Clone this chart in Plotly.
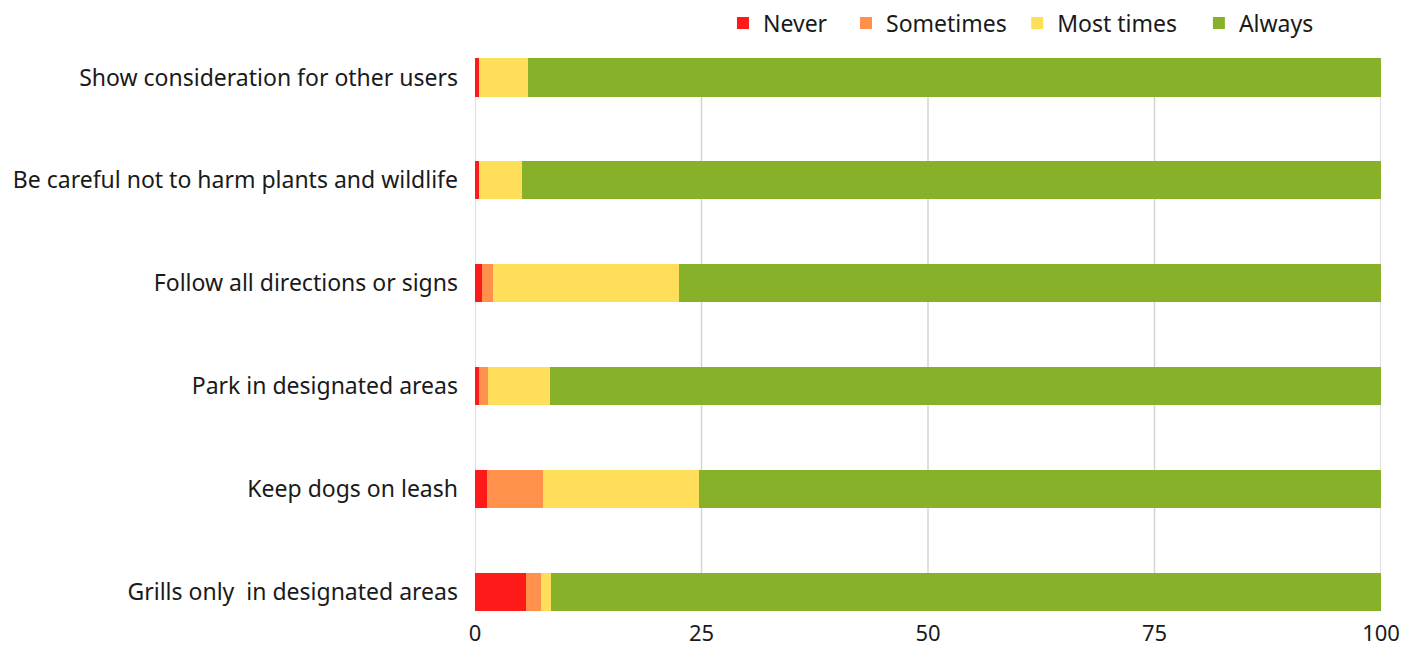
import plotly.graph_objects as go

# Survey statements, listed top to bottom
statements = [
    "Show consideration for other users",
    "Be careful not to harm plants and wildlife",
    "Follow all directions or signs",
    "Park in designated areas",
    "Keep dogs on leash",
    "Grills only  in designated areas",
]

# Share of respondents (%) per answer
never = [0.4, 0.4, 0.8, 0.4, 1.3, 5.6]
sometimes = [0.0, 0.0, 1.2, 1.0, 6.2, 1.7]
most_times = [5.4, 4.8, 20.5, 6.9, 17.2, 1.1]
always = [94.2, 94.8, 77.5, 91.7, 75.3, 91.6]

x_ticks = [0, 25, 50, 75, 100]

series = [
    ("Never", never, "#FF1A1A"),
    ("Sometimes", sometimes, "#FF914D"),
    ("Most times", most_times, "#FFDE59"),
    ("Always", always, "#88B12A"),
]

# Left edge of each legend entry (paper fraction), one legend per series
legend_x = [0.2737, 0.4095, 0.5985, 0.7990]

font_family = "Noto Sans, Open Sans, sans-serif"

fig = go.Figure()
legend_layout = {}
for i, (name, values, color) in enumerate(series):
    legend_id = "legend" if i == 0 else f"legend{i + 1}"
    fig.add_trace(go.Bar(
        y=statements,
        x=values,
        name=name,
        orientation="h",
        marker=dict(color=color, line=dict(width=0)),
        legend=legend_id,
    ))
    legend_layout[legend_id] = dict(
        orientation="h",
        x=legend_x[i], xanchor="left",
        y=1 - 23 / 649, yanchor="middle",
        yref="container",
        font=dict(size=23),
        itemwidth=30,
        bgcolor="rgba(0,0,0,0)",
    )

# Vertical grid lines running between the first and last bar
for t in x_ticks:
    fig.add_shape(
        type="line", xref="x", yref="y",
        x0=t, x1=t, y0=0, y1=len(statements) - 1,
        line=dict(color="#D4D4D4", width=1.5),
        layer="below",
    )

fig.update_layout(
    barmode="stack",
    bargap=0.63,
    width=1412,
    height=649,
    margin=dict(l=475, r=31, t=26, b=37, autoexpand=False),
    paper_bgcolor="white",
    plot_bgcolor="white",
    font=dict(family=font_family, size=23, color="#1a1a1a"),
    showlegend=True,
    xaxis=dict(
        range=[0, 100],
        tickvals=x_ticks,
        showgrid=False,
        zeroline=False,
        showline=False,
        ticks="",
        automargin=False,
        ticklabelstandoff=6,
        tickfont=dict(size=22),
    ),
    yaxis=dict(
        categoryorder="array",
        categoryarray=statements,
        range=[5.194, -0.5],
        showgrid=False,
        zeroline=False,
        showline=False,
        ticks="",
        automargin=False,
        ticklabelstandoff=16,
        tickfont=dict(size=23),
    ),
    **legend_layout,
)

fig.write_html("out.html")
